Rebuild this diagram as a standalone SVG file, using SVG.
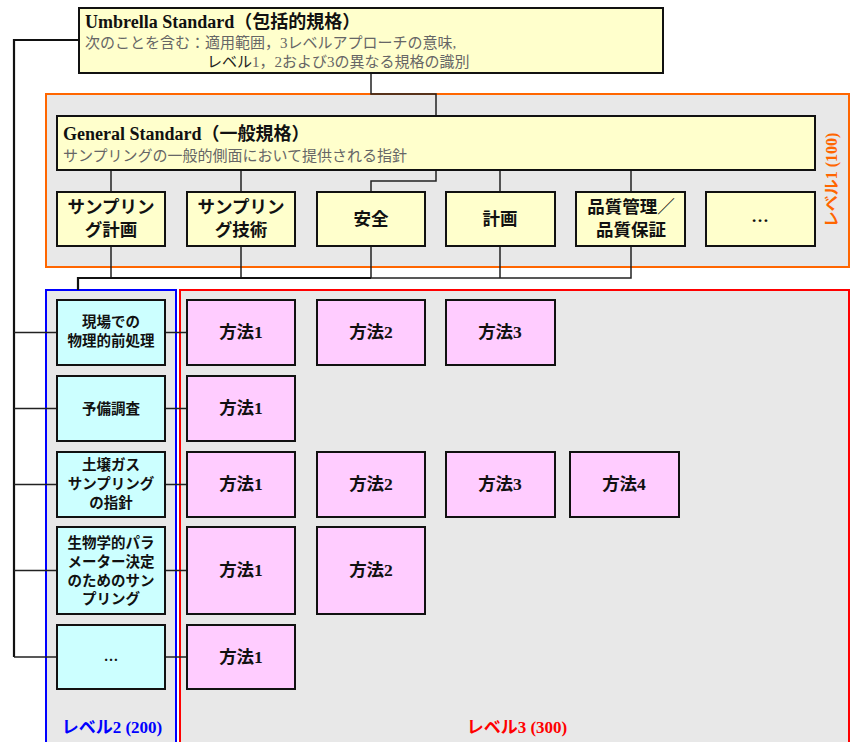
<svg xmlns="http://www.w3.org/2000/svg" width="850" height="742" viewBox="0 0 850 742">
<style>
text{font-family:"Liberation Serif","Noto Sans CJK JP",serif;}
.box{stroke:#111;stroke-width:2;}
.y{fill:#FFFFCC;}
.c{fill:#CCFFFF;}
.m{fill:#FFCCFF;}
.t1{font-size:17.5px;font-weight:bold;fill:#111;text-anchor:middle;}
.t2{font-size:14.5px;font-weight:bold;fill:#111;text-anchor:middle;}
.t3{font-size:17.5px;font-weight:bold;fill:#111;text-anchor:middle;}
.ttl{font-size:18px;font-weight:bold;fill:#111;}
.sub{font-size:15px;fill:#666;}
.con{fill:none;stroke:#222;stroke-width:1.5;}
.thk{fill:none;stroke:#111;stroke-width:2.2;}
</style>
<rect width="850" height="742" fill="#fff"/>
<g id="level1-area">
<rect x="46" y="94" width="803" height="173" fill="#E8E8E8" stroke="#FF6600" stroke-width="2"/>
<text transform="translate(837,180) rotate(-90)" font-size="16" font-weight="bold" fill="#FF6600" text-anchor="middle">レベル1 (100)</text>
</g>
<g id="level2-area">
<rect x="46" y="290" width="130" height="460" fill="#E8E8E8" stroke="#0000FF" stroke-width="2"/>
<text x="112" y="733" font-size="17" font-weight="bold" fill="#0000FF" text-anchor="middle">レベル2 (200)</text>
</g>
<g id="level3-area">
<rect x="180" y="290" width="669" height="460" fill="#E8E8E8" stroke="#FF0000" stroke-width="2"/>
<text x="517" y="733" font-size="17" font-weight="bold" fill="#FF0000" text-anchor="middle">レベル3 (300)</text>
</g>
<g id="connectors">
<path class="thk" d="M79,40 H14 V657"/>
<path class="con" d="M14,332.5 H57 M14,408.5 H57 M14,484.5 H57 M14,570.5 H57 M14,657 H57"/>
<path class="con" d="M165,332.5 H187 M165,408.5 H187 M165,484.5 H187 M165,570.5 H187 M165,657 H187"/>
<path class="con" d="M371,73 V94 H436 V116"/>
<path class="con" d="M111,170 V192 M241,170 V192 M436,170 V181 H371 V192 M500,170 V192 M631,170 V192"/>
<path class="con" d="M111,246 V278 M241,246 V278 M371,246 V278 M500,246 V278 M631,246 V278 H371"/>
<path class="thk" d="M371,278 H78 V290"/>
</g>
<g id="umbrella">
<rect class="box y" x="79" y="8" width="584" height="65"/>
<text class="ttl" x="85" y="28">Umbrella Standard（包括的規格）</text>
<text class="sub" x="85" y="48">次のことを含む：適用範囲，3レベルアプローチの意味,</text>
<text class="sub" x="207" y="67"><tspan fill="#222">レベル</tspan>1，2および3の異なる規格の識別</text>
</g>
<g id="general">
<rect class="box y" x="57" y="116" width="758" height="54"/>
<text class="ttl" x="63" y="140">General Standard（一般規格）</text>
<text class="sub" x="63" y="161">サンプリングの一般的側面において提供される指針</text>
</g>
<g id="l1-plan">
<rect class="box y" x="57" y="192" width="108" height="54"/>
<text class="t1" x="111" y="213">サンプリン</text>
<text class="t1" x="111" y="236">グ計画</text>
</g>
<g id="l1-tech">
<rect class="box y" x="187" y="192" width="108" height="54"/>
<text class="t1" x="241" y="213">サンプリン</text>
<text class="t1" x="241" y="236">グ技術</text>
</g>
<g id="l1-safety">
<rect class="box y" x="317" y="192" width="108" height="54"/>
<text class="t1" x="371" y="225">安全</text>
</g>
<g id="l1-planning">
<rect class="box y" x="446" y="192" width="109" height="54"/>
<text class="t1" x="500" y="225">計画</text>
</g>
<g id="l1-qa">
<rect class="box y" x="576" y="192" width="109" height="54"/>
<text class="t1" x="631" y="213">品質管理／</text>
<text class="t1" x="631" y="236">品質保証</text>
</g>
<g id="l1-more">
<rect class="box y" x="706" y="192" width="109" height="54"/>
<text class="t1" x="760" y="222" font-weight="normal" font-size="22">…</text>
</g>
<g id="l2-row1">
<rect class="box c" x="57" y="300" width="108" height="65"/>
<text class="t2" x="111" y="327">現場での</text>
<text class="t2" x="111" y="346">物理的前処理</text>
</g>
<g id="l2-row2">
<rect class="box c" x="57" y="376" width="108" height="65"/>
<text class="t2" x="111" y="414">予備調査</text>
</g>
<g id="l2-row3">
<rect class="box c" x="57" y="452" width="108" height="65"/>
<text class="t2" x="111" y="470">土壌ガス</text>
<text class="t2" x="111" y="489">サンプリング</text>
<text class="t2" x="111" y="508">の指針</text>
</g>
<g id="l2-row4">
<rect class="box c" x="57" y="527" width="108" height="87"/>
<text class="t2" x="111" y="548">生物学的パラ</text>
<text class="t2" x="111" y="567">メーター決定</text>
<text class="t2" x="111" y="586">のためのサン</text>
<text class="t2" x="111" y="604">プリング</text>
</g>
<g id="l2-row5">
<rect class="box c" x="57" y="625" width="108" height="64"/>
<text class="t2" x="111" y="661" font-size="20">…</text>
</g>
<g id="l3-r1-m1"><rect class="box m" x="187" y="300" width="108" height="65"/><text class="t3" x="241" y="338">方法1</text></g>
<g id="l3-r1-m2"><rect class="box m" x="317" y="300" width="108" height="65"/><text class="t3" x="371" y="338">方法2</text></g>
<g id="l3-r1-m3"><rect class="box m" x="446" y="300" width="109" height="65"/><text class="t3" x="500" y="338">方法3</text></g>
<g id="l3-r2-m1"><rect class="box m" x="187" y="376" width="108" height="65"/><text class="t3" x="241" y="414">方法1</text></g>
<g id="l3-r3-m1"><rect class="box m" x="187" y="452" width="108" height="65"/><text class="t3" x="241" y="490">方法1</text></g>
<g id="l3-r3-m2"><rect class="box m" x="317" y="452" width="108" height="65"/><text class="t3" x="371" y="490">方法2</text></g>
<g id="l3-r3-m3"><rect class="box m" x="446" y="452" width="109" height="65"/><text class="t3" x="500" y="490">方法3</text></g>
<g id="l3-r3-m4"><rect class="box m" x="570" y="452" width="109" height="65"/><text class="t3" x="624" y="490">方法4</text></g>
<g id="l3-r4-m1"><rect class="box m" x="187" y="527" width="108" height="87"/><text class="t3" x="241" y="576">方法1</text></g>
<g id="l3-r4-m2"><rect class="box m" x="317" y="527" width="108" height="87"/><text class="t3" x="371" y="576">方法2</text></g>
<g id="l3-r5-m1"><rect class="box m" x="187" y="625" width="108" height="64"/><text class="t3" x="241" y="663">方法1</text></g>
</svg>
